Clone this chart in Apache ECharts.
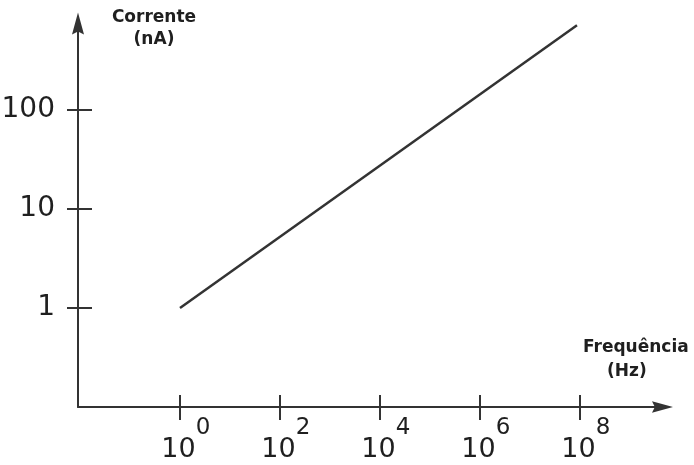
<!DOCTYPE html>
<html><head><meta charset="utf-8">
<script src="https://cdn.jsdelivr.net/npm/echarts@6/dist/echarts.min.js"></script>
<style>html,body{margin:0;padding:0;background:#fff}#c{width:694px;height:465px}</style>
</head><body><div id="c"></div>
<script>
// Data
const frequencyHz = [1, 8.7e7];
const currentNA = [1, 720];
const xTickValues = [1, 1e2, 1e4, 1e6, 1e8];
const xTickExponents = ['0', '2', '4', '6', '8'];
const yTickValues = [1, 10, 100];
const yTickLabels = ['1', '10', '100'];
const xName = 'Frequência';
const xUnit = '(Hz)';
const yName = 'Corrente';
const yUnit = '(nA)';

const INK = '#333333';
const TEXT = '#1f1f1f';
const FONT = 'DejaVu Sans';
const ARROW = 'path://M6,0 L12,22 L6,19 L0,22 Z';

function idxOf(arr, v) {
  return arr.findIndex(a => Math.abs(Math.log10(a) - Math.log10(v)) < 0.01);
}

const xMin = Math.pow(10, -2.04), xMax = Math.pow(10, 9.65);
const yMin = 0.1, yMax = Math.pow(10, 2.874);

const chart = echarts.init(document.getElementById('c'), null, {renderer: 'canvas'});
chart.setOption({
  animation: false,
  backgroundColor: '#ffffff',
  grid: {left: 78, right: 31.5, top: 23.5, bottom: 58, containLabel: false, outerBoundsMode: 'none'},
  xAxis: [{
    type: 'log', logBase: 10, min: xMin, max: xMax, position: 'bottom',
    axisLine: {show: true, onZero: false, lineStyle: {color: INK, width: 2}, symbol: ['none', ARROW], symbolSize: [13, 21]},
    axisTick: {show: true, inside: false, length: 13, lineStyle: {color: INK, width: 2}, customValues: xTickValues},
    axisLabel: {
      show: true, margin: 11, customValues: xTickValues,
      formatter: function (v) { const i = idxOf(xTickValues, v); return i < 0 ? '' : '{s|' + xTickExponents[i] + '}\n{b|10}'; },
      rich: {
        s: {fontFamily: FONT, fontSize: 23, color: TEXT, lineHeight: 20, padding: [0, 0, 0, 46]},
        b: {fontFamily: FONT, fontSize: 27, color: TEXT, lineHeight: 23, padding: [0, 3, 0, 0]}
      }
    },
    splitLine: {show: false},
    name: '{a|' + xName + '}\n{b|' + xUnit + '}',
    nameLocation: 'end', nameGap: -79.5,
    nameTextStyle: {
      align: 'left', verticalAlign: 'bottom', padding: [0, 0, 23, 0],
      rich: {
        a: {fontFamily: FONT, fontWeight: 'bold', fontSize: 17, color: TEXT, lineHeight: 24},
        b: {fontFamily: FONT, fontWeight: 'bold', fontSize: 17, color: TEXT, lineHeight: 24, padding: [0, 0, 0, 24]}
      }
    }
  }, {
    type: 'log', logBase: 10, min: xMin, max: xMax, position: 'bottom',
    axisLine: {show: false, onZero: false},
    axisTick: {show: true, inside: true, length: 12, lineStyle: {color: INK, width: 2}, customValues: xTickValues},
    axisLabel: {show: false},
    splitLine: {show: false}
  }],
  yAxis: [{
    type: 'log', logBase: 10, min: yMin, max: yMax, position: 'left',
    axisLine: {show: true, onZero: false, lineStyle: {color: INK, width: 2}, symbol: ['none', ARROW], symbolSize: [12, 23]},
    axisTick: {show: true, inside: false, length: 11, lineStyle: {color: INK, width: 2}, customValues: yTickValues},
    axisLabel: {
      show: true, margin: 23, customValues: yTickValues,
      formatter: function (v) { const i = idxOf(yTickValues, v); return i < 0 ? '' : yTickLabels[i]; },
      fontFamily: FONT, fontSize: 28, color: TEXT
    },
    splitLine: {show: false},
    name: '{a|' + yName + '}\n{b|' + yUnit + '}',
    nameLocation: 'end', nameGap: 16.5,
    nameTextStyle: {
      align: 'left', verticalAlign: 'top', padding: [0, 0, 0, 34],
      rich: {
        a: {fontFamily: FONT, fontWeight: 'bold', fontSize: 17, color: TEXT, lineHeight: 22, width: 84, align: 'center'},
        b: {fontFamily: FONT, fontWeight: 'bold', fontSize: 17, color: TEXT, lineHeight: 22, width: 84, align: 'center'}
      }
    }
  }, {
    type: 'log', logBase: 10, min: yMin, max: yMax, position: 'left', offset: 0,
    axisLine: {show: false, onZero: false},
    axisTick: {show: true, inside: true, length: 14, lineStyle: {color: INK, width: 2}, customValues: yTickValues},
    axisLabel: {show: false},
    splitLine: {show: false}
  }],
  series: [{
    type: 'line',
    xAxisIndex: 0, yAxisIndex: 0,
    data: frequencyHz.map((f, i) => [f, currentNA[i]]),
    symbol: 'none',
    lineStyle: {color: INK, width: 2.5}
  }]
});
</script>
</body></html>
